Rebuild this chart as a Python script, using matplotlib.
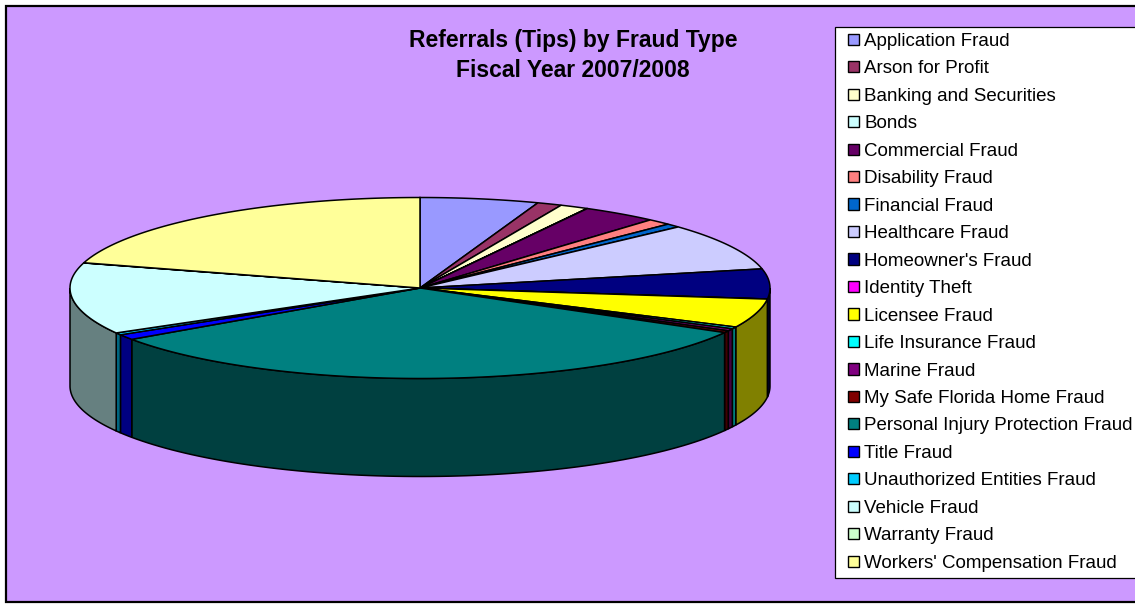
import numpy as np
import matplotlib
matplotlib.use("Agg")
import matplotlib.pyplot as plt
from matplotlib.patches import Patch, Polygon, Rectangle

plt.rcParams["font.family"] = ["Liberation Sans", "DejaVu Sans"]

categories = ["Application Fraud", "Arson for Profit", "Banking and Securities", "Bonds",
              "Commercial Fraud", "Disability Fraud", "Financial Fraud", "Healthcare Fraud",
              "Homeowner's Fraud", "Identity Theft", "Licensee Fraud", "Life Insurance Fraud",
              "Marine Fraud", "My Safe Florida Home Fraud", "Personal Injury Protection Fraud",
              "Title Fraud", "Unauthorized Entities Fraud", "Vehicle Fraud", "Warranty Fraud",
              "Workers' Compensation Fraud"]
# share of referrals in percent
shares = [5.47, 1.14, 1.31, 0.02, 3.5, 1.1, 0.67, 8.4, 5.33, 0.02, 5.14, 0.35, 0.4, 0.35,
          32.2, 0.95, 0.38, 12.74, 0.03, 20.5]
colors = ["#9999FF", "#993366", "#FFFFCC", "#CCFFFF", "#660066", "#FF8080", "#0066CC", "#CCCCFF",
          "#000080", "#FF00FF", "#FFFF00", "#00FFFF", "#800080", "#800000", "#008080", "#0000FF",
          "#00CCFF", "#CCFFFF", "#CCFFCC", "#FFFF99"]
title_lines = ["Referrals (Tips) by Fraud Type", "Fiscal Year 2007/2008"]

W, H = 1135, 605
CX, CY, RX, RY = 420, 288, 350, 90.5
DEPTH = 98 / RY

fig = plt.figure(figsize=(W / 100, H / 100), dpi=100, facecolor="white")
fig.add_artist(Rectangle((6 / W, 1 - 602 / H), 1.01, 596 / H, transform=fig.transFigure,
                         facecolor="#CC99FF", edgecolor="black", linewidth=1.6, zorder=-2))
fig.add_artist(Rectangle((835 / W, 1 - 578 / H), 1, 551 / H, transform=fig.transFigure,
                         facecolor="white", edgecolor="black", linewidth=0.9, zorder=-1))

# axes in pie units: the unit circle lands on the ellipse of the tilted pie
ax = fig.add_axes([0, 0, 1, 1])
ax.patch.set_alpha(0)
ax.set_xlim(-CX / RX, (W - CX) / RX)
ax.set_ylim((CY - H) / RY, CY / RY)
ax.axis("off")


def shade(c):
    return tuple(v * 0.5 for v in matplotlib.colors.to_rgb(c))


edges = np.cumsum([0] + shares) / sum(shares) * 2 * np.pi
for a, b, c in zip(edges[:-1], edges[1:], colors):
    # outer wall, only the part facing the viewer
    lo, hi = max(a, np.pi / 2), min(b, 3 * np.pi / 2)
    if hi > lo:
        t = np.linspace(lo, hi, 80)
        x, y = np.sin(t), np.cos(t)
        wall = np.r_[np.c_[x, y], np.c_[x[::-1], y[::-1] - DEPTH]]
        ax.add_patch(Polygon(wall, closed=True, facecolor=shade(c), edgecolor="black", linewidth=1.1))

for a, b, c in zip(edges[:-1], edges[1:], colors):
    t = np.linspace(a, b, max(int((b - a) * 80), 3))
    top = np.r_[[[0, 0]], np.c_[np.sin(t), np.cos(t)]]
    ax.add_patch(Polygon(top, closed=True, facecolor=c, edgecolor="black", linewidth=1.1))

for i, line in enumerate(title_lines):
    fig.text(573 / W, 1 - (40.5 + 30 * i) / H, line, fontsize=16.5, fontweight="bold",
             ha="center", va="center", color="black")

handles = [Patch(facecolor=c, edgecolor="black", linewidth=1.0) for c in colors]
leg = fig.legend(handles, categories, loc="upper left", bbox_to_anchor=(848 / W, 1 - 33 / H),
                 bbox_transform=fig.transFigure, fontsize=13.5, frameon=False, borderaxespad=0,
                 borderpad=0, labelspacing=0.558, handlelength=0.59, handleheight=0.55,
                 handletextpad=0.27)
for text in leg.get_texts():
    text.set_color("black")

fig.savefig("out.png", dpi=100)
